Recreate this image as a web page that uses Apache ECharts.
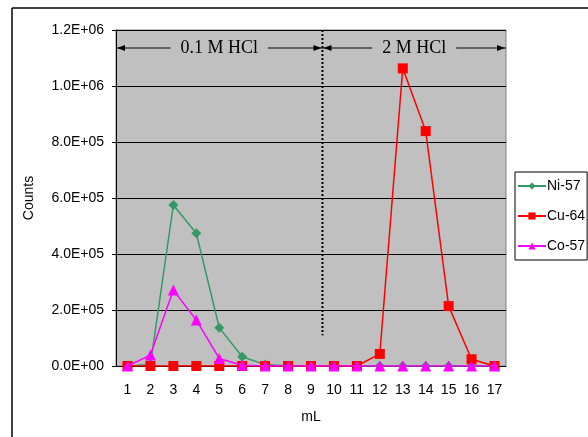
<!DOCTYPE html>
<html><head><meta charset="utf-8">
<script src="https://cdn.jsdelivr.net/npm/echarts@6/dist/echarts.min.js"></script>
<style>html,body{margin:0;padding:0;background:#fff}#c{width:588px;height:437px}</style>
</head><body><div id="c"></div>
<script>
var categories = ['1','2','3','4','5','6','7','8','9','10','11','12','13','14','15','16','17'];
var ni57 = [0, 5000, 575000, 474000, 137000, 33000, 5000, 0, 0, 0, 0, 0, 0, 0, 0, 0, 0];
var cu64 = [0, 0, 0, 0, 0, 0, 0, 0, 0, 0, 0, 43000, 1063000, 839000, 214000, 24000, 0];
var co57 = [0, 39000, 271000, 164000, 27000, 3000, 0, 0, 0, 0, 0, 0, 0, 0, 0, 0, 0];
var seriesNames = ['Ni-57', 'Cu-64', 'Co-57'];
var regionLabels = ['0.1 M HCl', '2 M HCl'];
var splitAfter = 9;

function sci(v) {
  if (v === 0) return '0.0E+00';
  var e = Math.floor(Math.log10(v) + 1e-9);
  var m = v / Math.pow(10, e);
  return m.toFixed(1) + 'E+' + (e < 10 ? '0' : '') + e;
}

var chart = echarts.init(document.getElementById('c'));
var font = 'Liberation Sans';
chart.setOption({
  animation: false,
  backgroundColor: '#fff',
  grid: { left: 116, right: 82, top: 30, bottom: 71, show: true, backgroundColor: '#c0c0c0', borderColor: '#808080', borderWidth: 1 },
  legend: {
    orient: 'vertical', left: 515, top: 172, itemGap: 16, itemWidth: 28, itemHeight: 9,
    backgroundColor: '#fff', borderColor: '#000', borderWidth: 1, padding: [7, 2, 7, 2],
    textStyle: { fontFamily: font, fontSize: 14, color: '#000', padding: [0, 0, 0, -4] },
    data: seriesNames
  },
  xAxis: {
    type: 'category', data: categories, boundaryGap: true,
    name: 'mL', nameLocation: 'middle', nameGap: 44,
    nameTextStyle: { fontFamily: font, fontSize: 14, color: '#000' },
    axisLine: { lineStyle: { color: '#000', width: 1 } },
    axisTick: { inside: true, length: 5, lineStyle: { color: '#000' } },
    axisLabel: { fontFamily: font, fontSize: 14, color: '#000', margin: 17 },
    splitLine: { show: false }
  },
  yAxis: {
    type: 'value', min: 0, max: 1200000, interval: 200000,
    name: 'Counts', nameLocation: 'middle', nameGap: 80, nameRotate: 90,
    nameTextStyle: { fontFamily: font, fontSize: 14, color: '#000' },
    axisLine: { show: true, lineStyle: { color: '#000' } },
    axisTick: { show: true, length: 4, lineStyle: { color: '#000' } },
    axisLabel: { fontFamily: font, fontSize: 14, color: '#000', margin: 12, formatter: sci },
    splitLine: { lineStyle: { color: '#000', width: 1 } }
  },
  series: [
    { name: seriesNames[0], type: 'line', data: ni57, symbol: 'diamond', symbolSize: 10,
      itemStyle: { color: '#339966' }, lineStyle: { color: '#339966', width: 1.5 }, z: 2 },
    { name: seriesNames[1], type: 'line', data: cu64, symbol: 'rect', symbolSize: 10,
      itemStyle: { color: '#ff0000' }, lineStyle: { color: '#ff0000', width: 1.5 }, z: 3 },
    { name: seriesNames[2], type: 'line', data: co57, symbol: 'triangle', symbolSize: 11,
      itemStyle: { color: '#ff00ff' }, lineStyle: { color: '#ff00ff', width: 1.5 }, z: 4 }
  ]
});

// annotations
var px0 = chart.convertToPixel({ xAxisIndex: 0 }, 0);
var px1 = chart.convertToPixel({ xAxisIndex: 0 }, 1);
var band = px1 - px0;
var plotLeft = px0 - band / 2;
var plotRight = chart.convertToPixel({ xAxisIndex: 0 }, categories.length - 1) + band / 2;
var splitX = chart.convertToPixel({ xAxisIndex: 0 }, splitAfter - 1) + band / 2;
var plotTop = chart.convertToPixel({ yAxisIndex: 0 }, 1200000);
var yA = plotTop + 18;
var dashBottom = chart.convertToPixel({ yAxisIndex: 0 }, 110000);
var labelFont = '18px "Liberation Serif"';
var ctx = document.createElement('canvas').getContext('2d');
ctx.font = labelFont;

function arrowHead(x, y, dir) {
  return { type: 'polygon', shape: { points: [[x, y], [x - dir * 8, y - 3], [x - dir * 8, y + 3]] }, style: { fill: '#000' }, z: 50 };
}
function region(a, b, label) {
  var c = (a + b) / 2;
  var half = ctx.measureText(label).width / 2 + 10;
  return [
    { type: 'line', shape: { x1: a, y1: yA, x2: c - half, y2: yA }, style: { stroke: '#000', lineWidth: 1 }, z: 50 },
    { type: 'line', shape: { x1: c + half, y1: yA, x2: b, y2: yA }, style: { stroke: '#000', lineWidth: 1 }, z: 50 },
    arrowHead(a + 1, yA, -1), arrowHead(b - 1, yA, 1),
    { type: 'text', x: c, y: yA, style: { text: label, font: labelFont, fill: '#000', align: 'center', verticalAlign: 'middle' }, z: 50 }
  ];
}
var els = [
  { type: 'line', shape: { x1: 12, y1: 8, x2: 588, y2: 8 }, style: { stroke: '#000', lineWidth: 1.5 }, z: 50 },
  { type: 'line', shape: { x1: 12, y1: 8, x2: 12, y2: 437 }, style: { stroke: '#000', lineWidth: 1.5 }, z: 50 },
  { type: 'line', shape: { x1: splitX, y1: plotTop, x2: splitX, y2: dashBottom }, style: { stroke: '#000', lineWidth: 2, lineDash: [2, 2] }, z: 50 }
].concat(region(plotLeft, splitX, regionLabels[0])).concat(region(splitX, plotRight, regionLabels[1]));
chart.setOption({ graphic: els });
</script></body></html>
